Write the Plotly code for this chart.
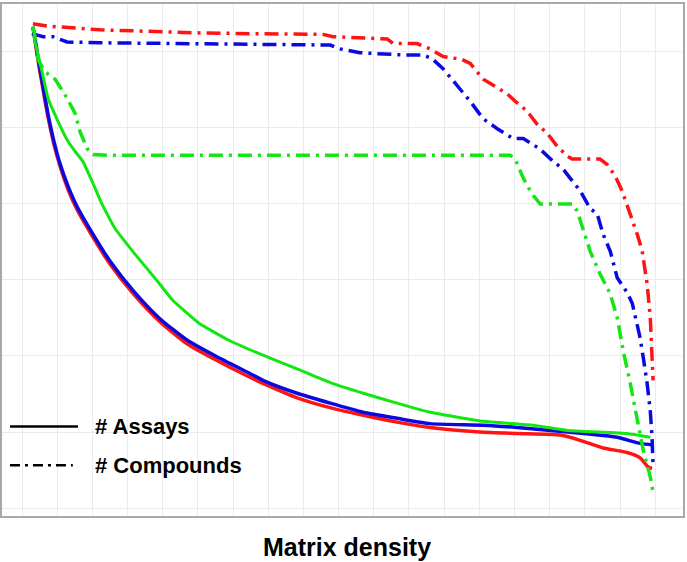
from plotly import graph_objects as go

# matrix density (grid units) vs count (grid units)
red_cmp_x = [0.31, 0.71, 2.22, 4.12, 5.06, 6.48, 8.56, 8.84, 10.38, 10.55, 11.23, 11.60, 11.97, 12.51, 12.74, 13.11, 13.59, 13.79,
             14.02, 14.36, 14.64, 14.93, 15.21, 15.50, 15.64, 16.43, 16.63, 16.86, 17.06, 17.29, 17.49, 17.63, 17.77, 17.86, 17.94]
red_cmp_y = [6.37, 6.34, 6.29, 6.26, 6.25, 6.24, 6.23, 6.20, 6.17, 6.11, 6.11, 6.04, 5.94, 5.90, 5.85, 5.64, 5.50, 5.45,
             5.35, 5.22, 5.05, 4.93, 4.76, 4.63, 4.59, 4.59, 4.52, 4.37, 4.17, 3.87, 3.60, 3.38, 2.95, 2.50, 1.68]

blue_cmp_x = [0.28, 0.60, 0.88, 1.28, 2.22, 3.92, 5.06, 8.10, 8.76, 9.04, 9.61, 9.98, 10.83, 11.40, 11.66, 11.97, 12.40, 12.74,
              13.11, 13.51, 13.96, 14.25, 14.53, 14.73, 15.10, 15.38, 15.58, 15.87, 16.15, 16.35, 16.52, 16.72, 16.92, 17.21,
              17.35, 17.44, 17.57, 17.66, 17.77, 17.86, 17.91, 17.94]
blue_cmp_y = [6.24, 6.20, 6.20, 6.13, 6.12, 6.11, 6.11, 6.09, 6.09, 6.04, 5.99, 5.98, 5.96, 5.96, 5.91, 5.78, 5.54, 5.35,
              5.12, 4.99, 4.86, 4.86, 4.78, 4.72, 4.56, 4.46, 4.34, 4.17, 3.94, 3.87, 3.60, 3.38, 3.03, 2.83,
              2.69, 2.50, 2.24, 1.98, 1.64, 1.28, 0.93, 0.54]

green_cmp_x = [0.31, 0.40, 0.45, 0.65, 0.94, 1.22, 1.51, 1.65, 1.85, 2.02, 2.42, 6.48, 13.88, 14.02, 14.25, 14.50, 14.73,
               15.64, 15.78, 16.06, 16.15, 16.43, 16.72, 16.92, 17.09, 17.29, 17.49, 17.66, 17.86, 17.94]
green_cmp_y = [6.33, 6.13, 5.90, 5.74, 5.64, 5.44, 5.19, 4.95, 4.73, 4.65, 4.64, 4.64, 4.64, 4.59, 4.34, 4.13, 4.00,
               4.00, 3.91, 3.51, 3.38, 3.08, 2.82, 2.50, 2.07, 1.64, 1.19, 0.76, 0.41, 0.20]

red_asy_x = [0.31, 0.45, 0.60, 0.74, 0.91, 1.08, 1.31, 1.56, 2.02, 2.50, 3.16, 3.92, 4.69, 5.54, 6.48, 6.85, 7.82,
             8.76, 9.70, 10.66, 11.60, 13.02, 14.07, 15.30, 15.87, 16.52, 17.20, 17.57, 17.80, 17.91]
red_asy_y = [6.33, 5.90, 5.50, 5.14, 4.78, 4.50, 4.19, 3.93, 3.56, 3.21, 2.82, 2.45, 2.16, 1.94, 1.72, 1.64, 1.45,
             1.32, 1.22, 1.13, 1.06, 1.00, 0.98, 0.96, 0.89, 0.79, 0.73, 0.66, 0.54, 0.52]

blue_asy_x = [0.31, 0.45, 0.60, 0.74, 0.91, 1.08, 1.31, 1.56, 2.02, 2.50, 3.16, 3.92, 4.69, 5.54, 6.48, 6.85, 7.82,
              8.76, 9.70, 10.66, 11.60, 13.11, 14.07, 15.50, 16.92, 17.57, 17.94]
blue_asy_y = [6.33, 5.94, 5.54, 5.18, 4.82, 4.53, 4.23, 3.97, 3.60, 3.25, 2.86, 2.49, 2.21, 1.99, 1.77, 1.68, 1.51,
              1.38, 1.26, 1.18, 1.11, 1.09, 1.06, 1.00, 0.93, 0.85, 0.83]

green_asy_x = [0.31, 0.37, 0.57, 0.74, 1.02, 1.31, 1.51, 1.73, 1.99, 2.27, 2.64, 3.21, 3.84, 4.29, 5.06, 5.91, 6.85, 7.82,
               8.76, 9.70, 10.66, 11.60, 13.11, 14.53, 15.50, 17.20, 17.86]
green_asy_y = [6.33, 6.13, 5.74, 5.39, 5.09, 4.82, 4.69, 4.56, 4.30, 4.00, 3.68, 3.34, 2.99, 2.73, 2.42, 2.20, 2.01, 1.83,
               1.65, 1.51, 1.38, 1.26, 1.14, 1.09, 1.02, 0.98, 0.93]

RED = '#ff1414'
BLUE = '#0a0ae0'
GREEN = '#14e614'
DASHDOT = '14px,6px,3px,6px'
FONT = 'Liberation Sans, Arial, sans-serif'

fig = go.Figure()

# assays (solid)
smooth = dict(shape='spline', smoothing=0.6)
fig.add_trace(go.Scatter(x=red_asy_x, y=red_asy_y, mode='lines', line=dict(color=RED, width=3.5, **smooth)))
fig.add_trace(go.Scatter(x=blue_asy_x, y=blue_asy_y, mode='lines', line=dict(color=BLUE, width=3.5, **smooth)))
fig.add_trace(go.Scatter(x=green_asy_x, y=green_asy_y, mode='lines', line=dict(color=GREEN, width=3, shape='spline', smoothing=0.3)))

# compounds (dash-dot)
fig.add_trace(go.Scatter(x=red_cmp_x, y=red_cmp_y, mode='lines', line=dict(color=RED, width=3.5, dash=DASHDOT)))
fig.add_trace(go.Scatter(x=blue_cmp_x, y=blue_cmp_y, mode='lines', line=dict(color=BLUE, width=3.5, dash=DASHDOT)))
fig.add_trace(go.Scatter(x=green_cmp_x, y=green_cmp_y, mode='lines', line=dict(color=GREEN, width=3.5, dash=DASHDOT)))

axis = dict(showticklabels=False, ticks='', dtick=1, tick0=0, showgrid=True, gridcolor='#ebebeb', gridwidth=1,
            zeroline=False, showline=True, mirror=True, linecolor='#a8a8a8', linewidth=2)

fig.update_layout(
    width=687, height=562,
    margin=dict(l=2, r=4, t=2, b=46),
    plot_bgcolor='white', paper_bgcolor='white',
    showlegend=False,
    xaxis=dict(axis, range=[-0.569, 18.79]),
    yaxis=dict(axis, range=[-0.105, 6.63]),
    font=dict(family=FONT, color='black'),
)

# hand-made legend in the lower left corner
fig.add_shape(type='line', xref='paper', yref='paper', x0=0.0117, x1=0.1116, y0=0.175, y1=0.175,
              line=dict(color='black', width=2.5))
fig.add_shape(type='line', xref='paper', yref='paper', x0=0.0117, x1=0.104, y0=0.0992, y1=0.0992,
              line=dict(color='black', width=2.5, dash='10px,5px,3px,5px'))
fig.add_annotation(text='<b># Assays</b>', xref='paper', yref='paper', x=0.1336, y=0.175,
                   xanchor='left', yanchor='middle', showarrow=False, font=dict(size=22))
fig.add_annotation(text='<b># Compounds</b>', xref='paper', yref='paper', x=0.1336, y=0.0992,
                   xanchor='left', yanchor='middle', showarrow=False, font=dict(size=22))

# axis title
fig.add_annotation(text='<b>Matrix density</b>', xref='paper', yref='paper', x=0.5066, y=-0.0603,
                   xanchor='center', yanchor='middle', showarrow=False, font=dict(size=25))

# page body has an 8px default margin; drop it so the figure sits at the window corner
fig.write_html("out.html", config={'displayModeBar': False},
               post_script="document.body.style.margin='0';")
